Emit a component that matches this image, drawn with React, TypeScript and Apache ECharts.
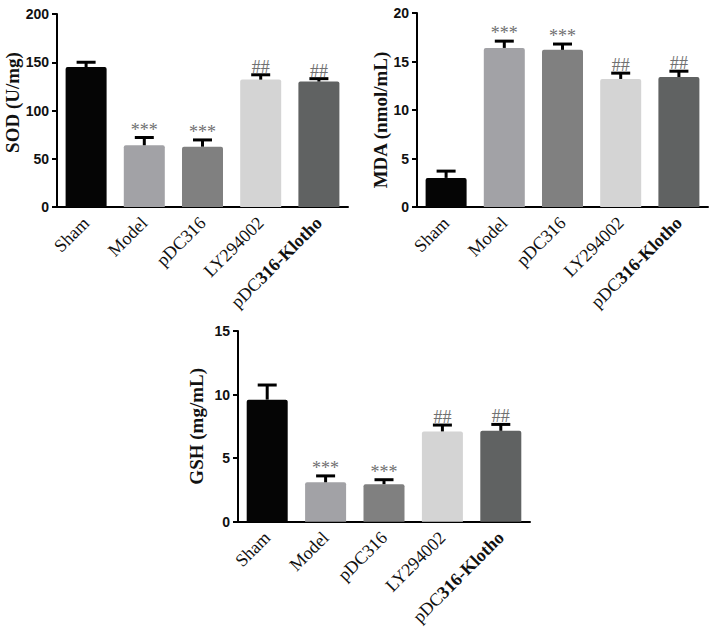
import React, { useEffect, useRef } from "react";
import * as echarts from "echarts";

const CATEGORIES = ["Sham", "Model", "pDC316", "LY294002", "pDC316-Klotho"];
const BAR_COLORS = ["#050505", "#a2a2a6", "#808080", "#d4d4d4", "#606262"];
const MARKS = ["", "***", "***", "##", "##"];

const SOD_MEAN = [145, 64, 62.5, 132, 130];
const SOD_ERR = [5, 8, 7, 5, 3];
const MDA_MEAN = [3.0, 16.4, 16.2, 13.2, 13.4];
const MDA_ERR = [0.7, 0.7, 0.6, 0.6, 0.6];
const GSH_MEAN = [9.6, 3.1, 2.95, 7.1, 7.15];
const GSH_ERR = [1.15, 0.5, 0.35, 0.5, 0.5];

const SOD_TICKS = { min: 0, max: 200, interval: 50 };
const MDA_TICKS = { min: 0, max: 20, interval: 5 };
const GSH_TICKS = { min: 0, max: 15, interval: 5 };

const SERIF = '"Liberation Serif", "Times New Roman", serif';
const SANS = '"Liberation Sans", Arial, sans-serif';

function catLabel(v: string) {
  if (v === "pDC316-Klotho") return "pDC{b|316-Klotho}";
  return v;
}

export default function App() {
  const ref = useRef<HTMLDivElement>(null);
  useEffect(() => {
    if (!ref.current) return;
    const chart = echarts.init(ref.current, undefined, { renderer: "svg" });

    const panels = [
      { name: "SOD (U/mg)", mean: SOD_MEAN, err: SOD_ERR, ticks: SOD_TICKS, grid: { left: 57, top: 14, width: 291, height: 193 }, nameGap: 33, namePad: [0, 0, 0, 16] },
      { name: "MDA (nmol/mL)", mean: MDA_MEAN, err: MDA_ERR, ticks: MDA_TICKS, grid: { left: 417, top: 13, width: 291, height: 194 }, nameGap: 24, namePad: [0, 20, 0, 0] },
      { name: "GSH (mg/mL)", mean: GSH_MEAN, err: GSH_ERR, ticks: GSH_TICKS, grid: { left: 238, top: 331, width: 292, height: 193 }, nameGap: 32, namePad: [0, 0, 0, 0] },
    ];

    const grids: any[] = [];
    const xAxes: any[] = [];
    const yAxes: any[] = [];
    const series: any[] = [];

    panels.forEach((p, gi) => {
      grids.push({ ...p.grid, containLabel: false });
      xAxes.push({
        type: "category",
        gridIndex: gi,
        data: CATEGORIES,
        axisLine: { lineStyle: { color: "#000", width: 2 } },
        axisTick: { alignWithLabel: true, length: 5, lineStyle: { color: "#000", width: 2 } },
        axisLabel: {
          rotate: 45,
          margin: 13,
          interval: 0,
          color: "#111",
          fontFamily: SERIF,
          fontSize: 18,
          formatter: catLabel,
          rich: {
            b: { fontFamily: SERIF, fontSize: 18, fontWeight: "bold", color: "#111" },
          },
        },
        splitLine: { show: false },
      });
      yAxes.push({
        type: "value",
        gridIndex: gi,
        min: p.ticks.min,
        max: p.ticks.max,
        interval: p.ticks.interval,
        name: p.name,
        nameLocation: "middle",
        nameGap: p.nameGap,
        nameTextStyle: { fontFamily: SERIF, fontSize: 19, fontWeight: "bold", color: "#111", padding: p.namePad },
        axisLine: { show: true, lineStyle: { color: "#000", width: 2 } },
        axisTick: { show: true, length: 5, lineStyle: { color: "#000", width: 2 } },
        axisLabel: { fontFamily: SANS, fontSize: 14, fontWeight: "bold", color: "#111", margin: 8 },
        splitLine: { show: false },
      });
      series.push({
        type: "bar",
        xAxisIndex: gi,
        yAxisIndex: gi,
        barWidth: 41,
        data: p.mean.map((v, i) => ({ value: v, itemStyle: { color: BAR_COLORS[i], borderRadius: [2, 2, 0, 0] } })),
        z: 2,
      });
      series.push({
        type: "custom",
        xAxisIndex: gi,
        yAxisIndex: gi,
        z: 3,
        data: p.mean.map((v, i) => [i, v, p.err[i]]),
        renderItem: (params: any, api: any) => {
          const idx = api.value(0);
          const m = api.value(1);
          const e = api.value(2);
          const base = api.coord([idx, m]);
          const top = api.coord([idx, m + e]);
          const half = 9.5;
          const children: any[] = [
            { type: "line", shape: { x1: base[0], y1: base[1], x2: top[0], y2: top[1] }, style: { stroke: "#000", lineWidth: 3 } },
            { type: "line", shape: { x1: top[0] - half, y1: top[1], x2: top[0] + half, y2: top[1] }, style: { stroke: "#000", lineWidth: 3 } },
          ];
          const mark = MARKS[params.dataIndex];
          if (mark) {
            children.push({
              type: "text",
              x: top[0],
              y: top[1] + 1,
              style: { text: mark, fill: "#707070", font: `18px ${SERIF}`, align: "center", verticalAlign: "bottom" },
            });
          }
          return { type: "group", children };
        },
      });
    });

    chart.setOption({
      animation: false,
      backgroundColor: "#fff",
      grid: grids,
      xAxis: xAxes,
      yAxis: yAxes,
      series,
    });
    return () => chart.dispose();
  }, []);

  return <div ref={ref} style={{ position: "fixed", left: 0, top: 0, width: 718, height: 628 }} />;
}
